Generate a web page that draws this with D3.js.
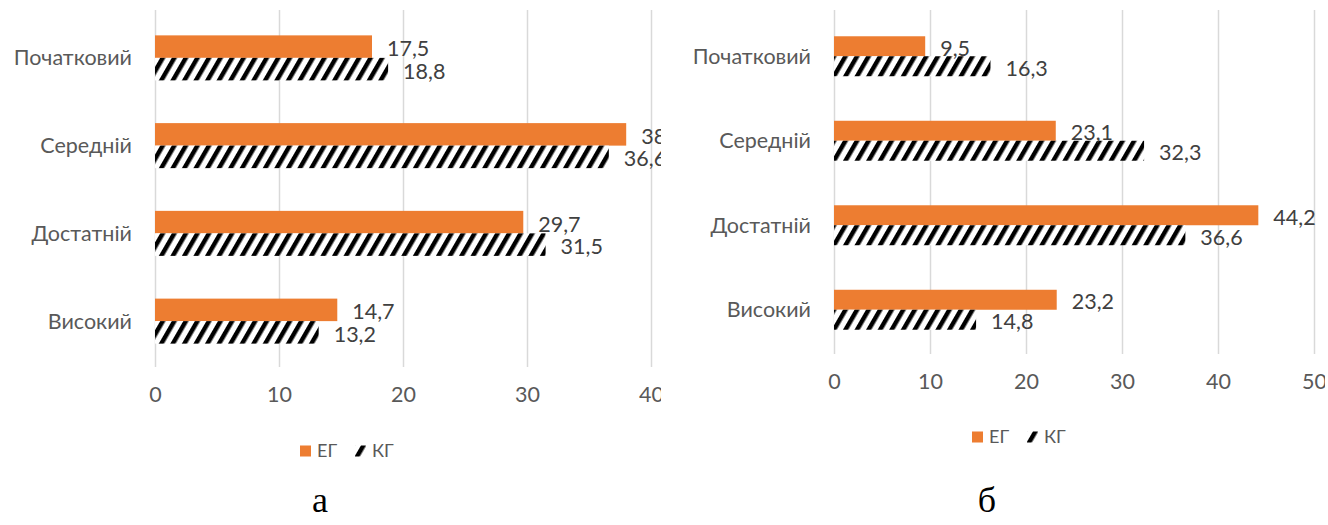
<!DOCTYPE html>
<meta charset="utf-8">
<script src="https://d3js.org/d3.v7.min.js"></script>
<style>
  body { margin: 0; background: #fff; }
  text { font-family: Lato, "Open Sans", sans-serif; }
</style>
<div id="chart"></div>
<script>

  // data
  const categories = ["Початковий", "Середній", "Достатній", "Високий"];
  const seriesNames = ["ЕГ", "КГ"];
  const egA = [17.5, 38, 29.7, 14.7];
  const kgA = [18.8, 36.6, 31.5, 13.2];
  const egB = [9.5, 23.1, 44.2, 23.2];
  const kgB = [16.3, 32.3, 36.6, 14.8];
  const ticksA = [0, 10, 20, 30, 40];
  const ticksB = [0, 10, 20, 30, 40, 50];
  const panelLabels = ["а", "б"];

  const W = 1328, H = 525;
  const orange = "#ed7d31";
  const fs = "21.5px";

  const svg = d3.select("#chart")
    .append("svg")
      .attr("width", W)
      .attr("height", H);

  const defs = svg.append("defs");

  // hatch pattern for КГ
  const pat = defs.append("pattern")
    .attr("id", "hatch")
    .attr("patternUnits", "userSpaceOnUse")
    .attr("width", 10)
    .attr("height", 10)
    .attr("patternTransform", "rotate(30)");
  pat.append("rect").attr("width", 10).attr("height", 10).attr("fill", "#fff");
  pat.append("rect").attr("x", 0).attr("width", 4.5).attr("height", 10).attr("fill", "#000");

  // fmt with decimal comma
  const fmt = v => String(v).replace(".", ",");

  function drawPanel(cfg, idx) {
    const { eg, kg, ticks, x0, x1, top, bottom, clipRight, pad, tickY, legY, legX, labX } = cfg;

    defs.append("clipPath").attr("id", "clip" + idx)
      .append("rect")
        .attr("x", 0).attr("y", 0)
        .attr("width", clipRight).attr("height", H);

    const g = svg.append("g").attr("clip-path", `url(#clip${idx})`);

    const x = d3.scaleLinear()
      .domain([0, d3.max(ticks)])
      .range([x0, x1]);

    const y = d3.scaleBand()
      .domain(categories)
      .range([top, bottom])
      .paddingInner(pad)
      .paddingOuter(pad / 2);

    const ys = d3.scaleBand()
      .domain(seriesNames)
      .range([0, y.bandwidth()]);

    // gridlines + tick labels
    const axis = g.append("g")
      .attr("transform", `translate(0,${bottom + 2})`)
      .call(d3.axisBottom(x)
        .tickValues(ticks)
        .tickSize(-(bottom - top + 6))
        .tickPadding(tickY));
    axis.select(".domain").remove();
    axis.selectAll(".tick line")
      .attr("stroke", "#d9d9d9")
      .attr("stroke-width", 1.5);
    axis.selectAll(".tick text")
      .attr("fill", "#595959")
      .style("font-size", fs)
      .style("font-family", "Lato, 'Open Sans', sans-serif");

    const rows = categories.map((c, i) => ({ cat: c, vals: [eg[i], kg[i]] }));

    const grp = g.selectAll(".row")
      .data(rows)
      .join("g")
        .attr("transform", d => `translate(0,${y(d.cat)})`);

    grp.selectAll("rect")
      .data(d => d.vals.map((v, k) => ({ key: seriesNames[k], v })))
      .join("rect")
        .attr("x", x(0))
        .attr("y", d => ys(d.key))
        .attr("width", d => x(d.v) - x(0))
        .attr("height", ys.bandwidth())
        .attr("fill", d => d.key === "ЕГ" ? orange : "url(#hatch)");

    grp.selectAll(".val")
      .data(d => d.vals.map((v, k) => ({ key: seriesNames[k], v })))
      .join("text")
        .attr("class", "val")
        .attr("x", d => x(d.v) + 15)
        .attr("y", d => ys(d.key) + ys.bandwidth() / 2 + 2)
        .attr("dy", "0.35em")
        .attr("fill", "#404040")
        .style("font-size", fs)
        .text(d => fmt(d.v));

    // category labels
    svg.append("g").selectAll("text")
      .data(categories)
      .join("text")
        .attr("x", x0 - 23)
        .attr("y", d => y(d) + y.bandwidth() / 2)
        .attr("dy", "0.35em")
        .attr("text-anchor", "end")
        .attr("fill", "#595959")
        .style("font-size", fs)
        .text(d => d);

    // legend
    const leg = svg.append("g").attr("transform", `translate(${legX},${legY})`);
    seriesNames.forEach((s, k) => {
      const ox = k * 55;
      leg.append("rect")
        .attr("x", ox).attr("y", -5.5)
        .attr("width", 11).attr("height", 11)
        .attr("fill", k === 0 ? orange : "url(#hatch)");
      leg.append("text")
        .attr("x", ox + 17).attr("y", 0)
        .attr("dy", "0.35em")
        .attr("fill", "#595959")
        .style("font-size", "18px")
        .text(s);
    });

    svg.append("text")
      .attr("x", labX)
      .attr("y", 512)
      .attr("text-anchor", "middle")
      .attr("fill", "#000")
      .style("font-family", "'Liberation Serif', 'Times New Roman', serif")
      .style("font-size", "36px")
      .text(panelLabels[idx]);
  }

  drawPanel({
    eg: egA, kg: kgA, ticks: ticksA,
    x0: 155, x1: 651, top: 14, bottom: 365, clipRight: 661, pad: 0.487,
    tickY: 20, legX: 300, legY: 451, labX: 320
  }, 0);

  drawPanel({
    eg: egB, kg: kgB, ticks: ticksB,
    x0: 834, x1: 1314, top: 14, bottom: 352, clipRight: 1325, pad: 0.527,
    tickY: 20, legX: 972, legY: 437, labX: 987
  }, 1);

</script>
